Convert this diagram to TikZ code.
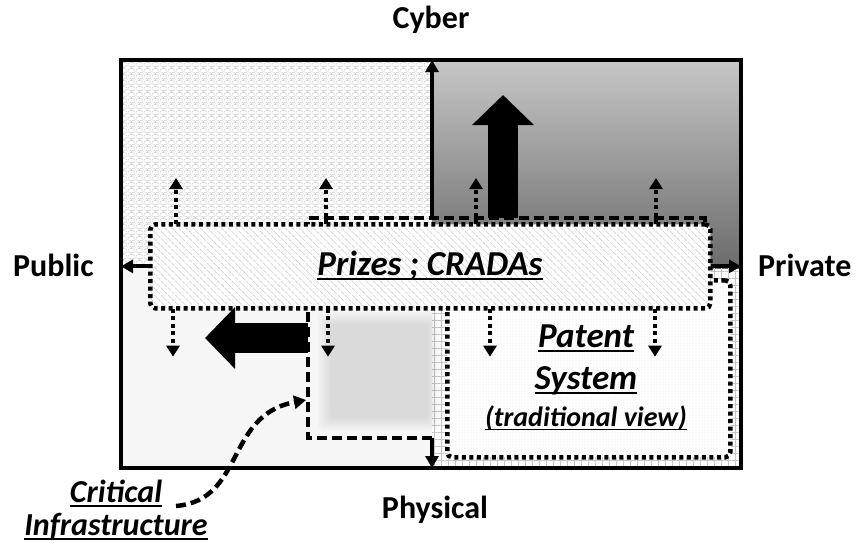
\documentclass[tikz,border=0pt]{standalone}
\usepackage{fontspec}
\setmainfont{Carlito}
\usetikzlibrary{arrows.meta, patterns, patterns.meta, positioning}

\pgfdeclarepatternformonly{scales}{\pgfqpoint{0pt}{0pt}}{\pgfqpoint{8pt}{6pt}}{\pgfqpoint{8pt}{6pt}}{%
  \pgfsetlinewidth{0.6pt}%
  \pgfpathmoveto{\pgfqpoint{0pt}{0.5pt}}\pgfpatharc{180}{0}{4pt and 2.5pt}%
  \pgfpathmoveto{\pgfqpoint{-4pt}{3.5pt}}\pgfpatharc{180}{0}{4pt and 2.5pt}%
  \pgfpatharc{180}{0}{4pt and 2.5pt}%
  \pgfusepath{stroke}}

\newcommand{\undl}[2][2pt]{\setbox0\hbox{#2}\rlap{\vrule width\wd0 height -2.5pt depth \dimexpr2.5pt+#1\relax}\box0}

\begin{document}
\begin{tikzpicture}[x=1pt, y=-1pt,
    lbl/.style={font=\bfseries\fontsize{32}{36}\selectfont, inner sep=0pt},
    ulbl/.style={font=\bfseries\itshape\fontsize{#1}{36}\selectfont, inner sep=0pt},
    ulbl/.default=32,
    axis/.style={line width=4pt, -{Triangle[length=12pt,width=13pt]}},
    dotarrow/.style={line width=4pt, dash pattern=on 4pt off 3.5pt, -{Triangle[length=11pt,width=13pt]}},
    dashline/.style={line width=4.5pt, dash pattern=on 10pt off 5pt},
    dotbox/.style={draw, line width=4.5pt, dash pattern=on 4pt off 3.5pt, rounded corners=5pt, inner sep=0pt, anchor=north west},
    block/.style={line width=30pt, -{Triangle[length=30pt,width=60pt]}}
]
    \fill[white] (0,0) rectangle (858,544);
    \useasboundingbox (0,0) rectangle (858,544);

    \coordinate (nw) at (121,60);
    \coordinate (se) at (741,468);
    \coordinate (o) at (432,268);
    \coordinate (citop) at (432,218);
    \coordinate (cibot) at (432,438);

    % quadrants
    \fill[pattern=scales, pattern color=gray!40] (nw) rectangle (o);
    \shade[top color=black!22, bottom color=black!58] (nw -| o) rectangle (se |- o);
    \fill[gray!7] (nw |- o) rectangle (o |- se);
    \fill[pattern={Lines[angle=0,distance=7pt,line width=0.5pt]}, pattern color=gray!45] (o) rectangle (se);
    \fill[pattern={Lines[angle=90,distance=7pt,line width=0.5pt]}, pattern color=gray!45] (o) rectangle (se);
    \draw[line width=4pt] (nw) rectangle (se);

    % critical infrastructure
    \foreach \i in {0,...,6}
        \fill[black, opacity=0.014, rounded corners=4pt] (318+2*\i,312+2*\i) rectangle (440-2*\i,430-2*\i);
    \draw[dashline] (cibot) -- (308,438) -- (308,218) -- (705,218) -- (705,235);

    \node[dotbox, minimum width=283, minimum height=177, preaction={fill=white},
          pattern={Dots[distance=3pt,radius=0.4pt]}, pattern color=gray!40] (patent) at (445,278) {};
    \node[dotbox, minimum width=560, minimum height=84, preaction={fill=white},
          pattern={Lines[angle=-45,distance=5pt,line width=0.7pt]}, pattern color=gray!35] (prizes) at (150,224) {};

    \node[ulbl=35, anchor=base] (prizestxt) at (430,275) {\undl{Prizes ; CRADAs}};
    \node[ulbl=35, anchor=base] (pat1) at (586,347) {\undl{Patent}};
    \node[ulbl=35, anchor=base] (pat2) at (586,389) {\undl{System}};
    \node[ulbl=28, anchor=base] (pat3) at (586,426) {\undl[1.6pt]{(traditional view)}};

    % axes
    \draw[axis] (citop) -- (nw -| o);
    \draw[axis] (cibot) -- (se -| o);
    \draw[axis] (prizes.west) -- (prizes.west -| nw);
    \draw[axis] (prizes.east) -- (prizes.east -| se);

    \foreach \x in {176,326,476,656}
        \draw[dotarrow] (prizes.north -| \x,0) -- ++(0,-46);
    \foreach \x in {173,328,490,655}
        \draw[dotarrow] (prizes.south -| \x,0) -- ++(0,48);

    \draw[block] (503,218) -- (503,95);
    \draw[block] (308,338) -- (205,338);

    \node[lbl, anchor=base] (cyber) at (431,28) {Cyber};
    \node[lbl, anchor=base] (physical) at (435,518) {Physical};
    \node[lbl, anchor=base west] (public) at (13,276) {Public};
    \node[lbl, anchor=base west] (private) at (758,276) {Private};

    \node[ulbl=32, anchor=base] (crit) at (116,502) {\undl{Critical}};
    \node[ulbl=32, anchor=base] (infra) at (116,535) {\undl{Infrastructure}};
    \coordinate (cistart) at (176,506);
    \coordinate (ciend) at (306,400);
    \draw[dashline, -{Triangle[length=12pt,width=13pt]}] (cistart) .. controls (245,500) and (225,415) .. (ciend);
\end{tikzpicture}
\end{document}
